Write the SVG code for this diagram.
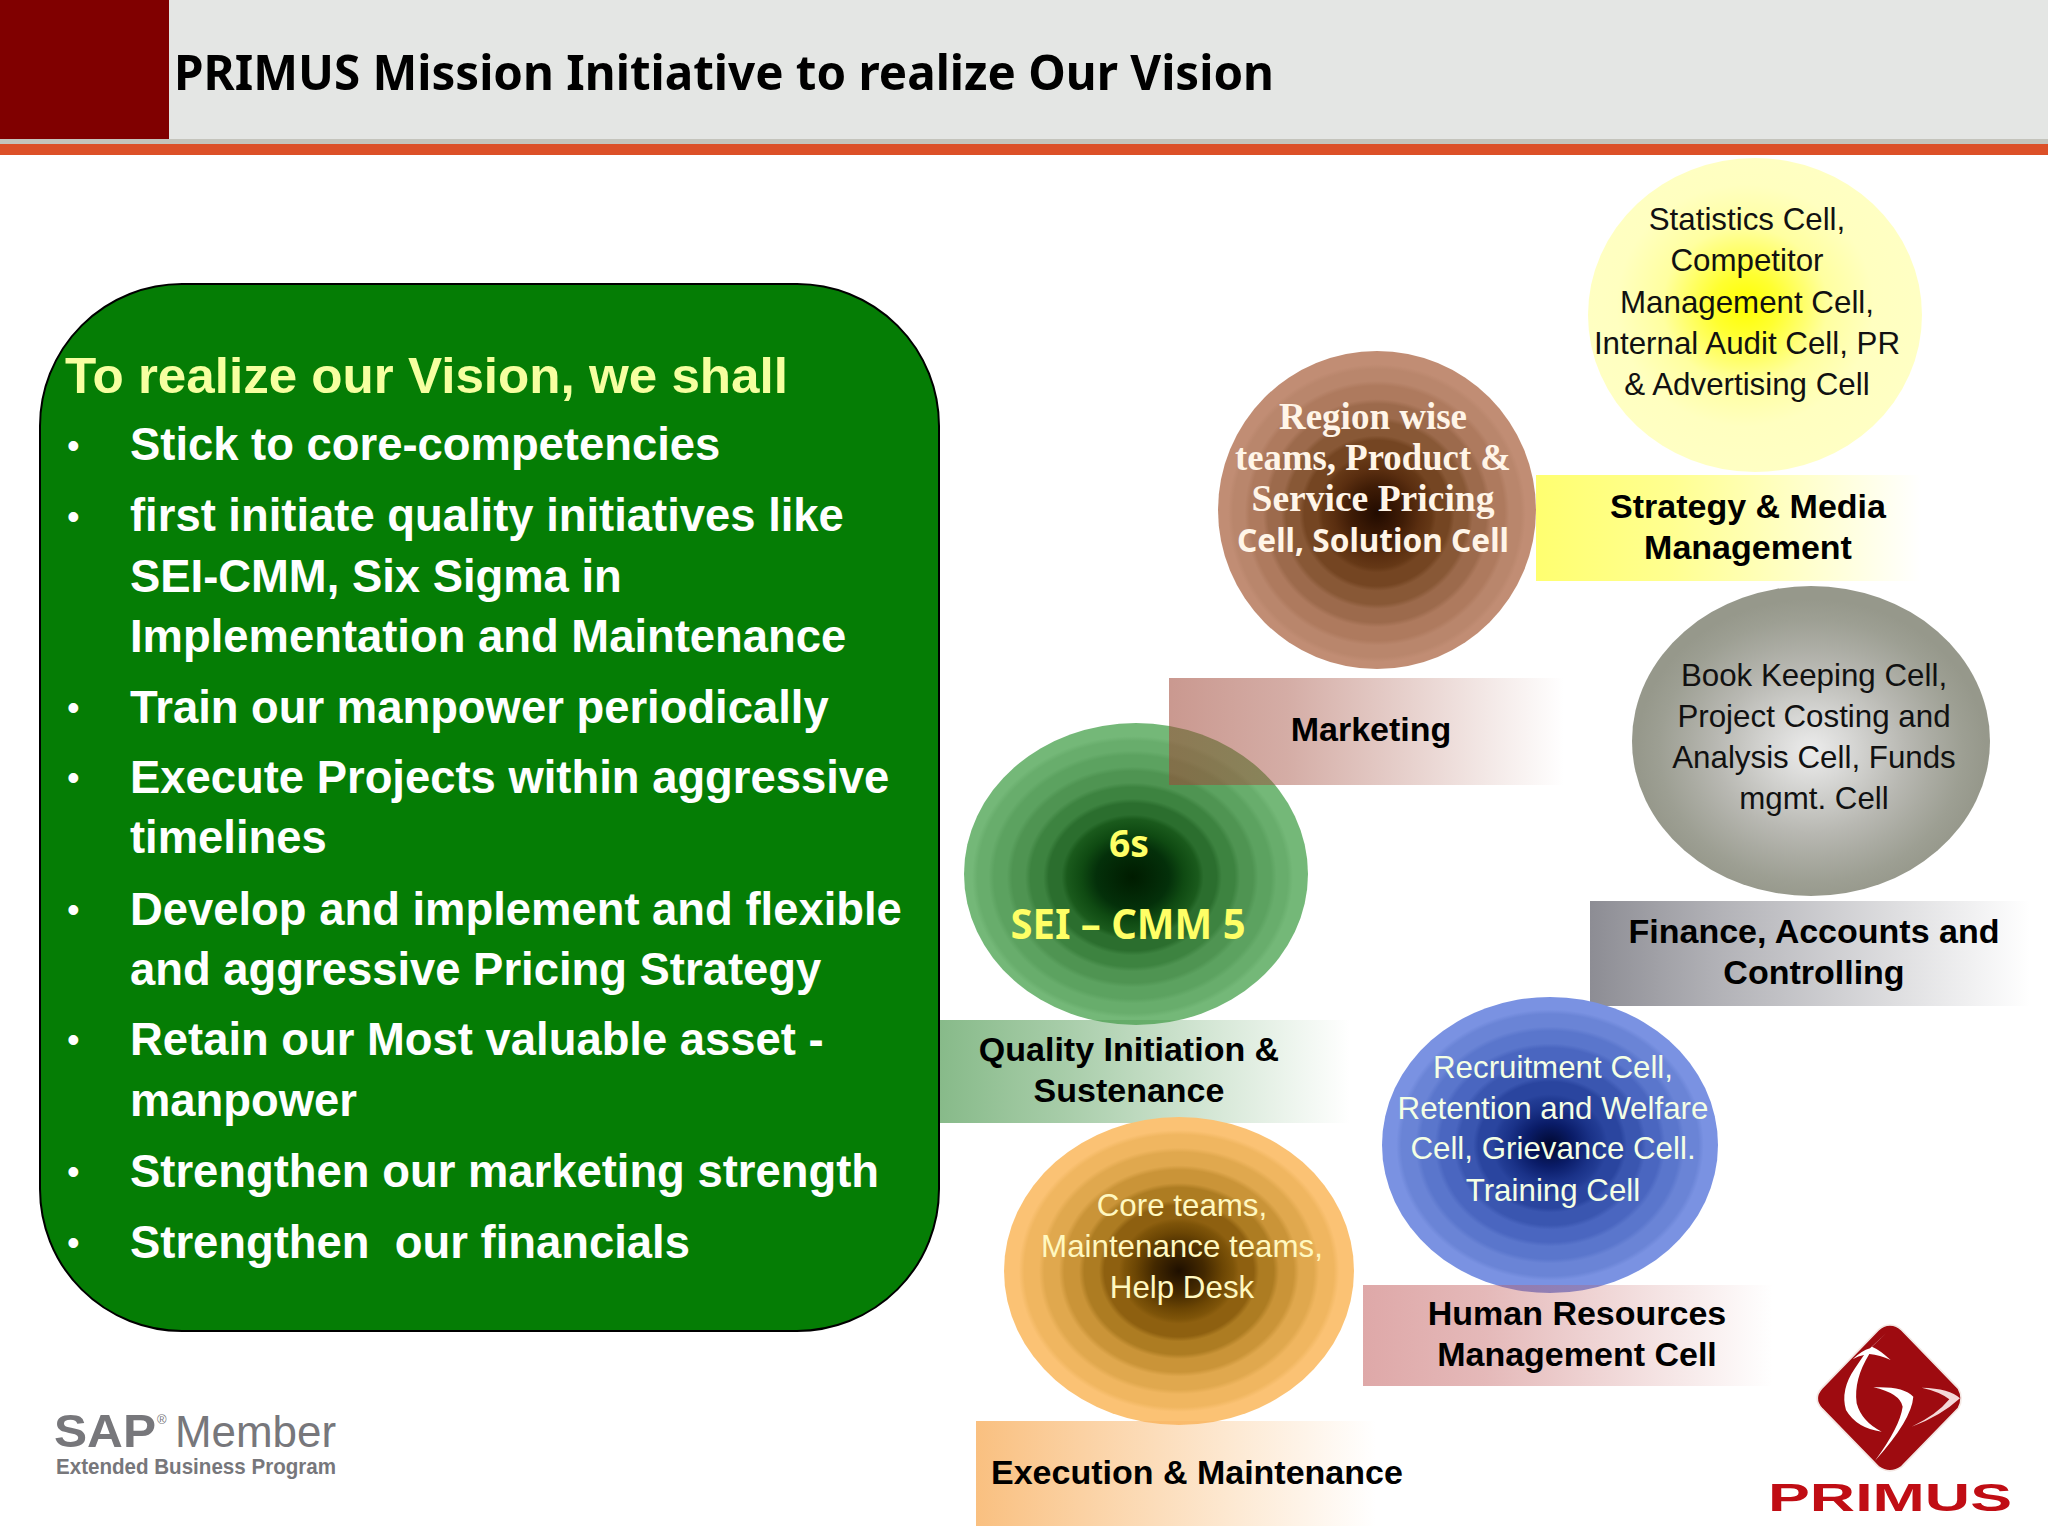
<svg xmlns="http://www.w3.org/2000/svg" width="2048" height="1536" viewBox="0 0 2048 1536">
<defs>
<radialGradient id="gGreen" cx="0.49" cy="0.51" r="0.53"><stop offset="0" stop-color="#001c00"/><stop offset=".2" stop-color="#04300a"/><stop offset=".28" stop-color="#0f4a12"/><stop offset=".36" stop-color="#1a5a1c"/><stop offset=".39" stop-color="#2b6e2e"/><stop offset=".46" stop-color="#2b6e2e"/><stop offset=".49" stop-color="#3d8340"/><stop offset=".56" stop-color="#3d8340"/><stop offset=".59" stop-color="#4f9452"/><stop offset=".66" stop-color="#4f9452"/><stop offset=".69" stop-color="#5ca260"/><stop offset=".76" stop-color="#5ca260"/><stop offset=".79" stop-color="#68ad6c"/><stop offset=".85" stop-color="#68ad6c"/><stop offset=".88" stop-color="#74b878"/><stop offset="1" stop-color="#74b878"/></radialGradient>
<radialGradient id="gBrown" cx="0.5" cy="0.51" r="0.52"><stop offset="0" stop-color="#220b00"/><stop offset=".16" stop-color="#3f1c06"/><stop offset=".26" stop-color="#5a2e10"/><stop offset=".33" stop-color="#653816"/><stop offset=".36" stop-color="#744522"/><stop offset=".44" stop-color="#744522"/><stop offset=".47" stop-color="#885836"/><stop offset=".55" stop-color="#885836"/><stop offset=".58" stop-color="#9c6a4c"/><stop offset=".66" stop-color="#9c6a4c"/><stop offset=".69" stop-color="#ae7a5e"/><stop offset=".77" stop-color="#ae7a5e"/><stop offset=".8" stop-color="#b9866c"/><stop offset=".87" stop-color="#b9866c"/><stop offset=".9" stop-color="#c18d74"/><stop offset="1" stop-color="#c18d74"/></radialGradient>
<radialGradient id="gOrange" cx="0.5" cy="0.5" r="0.52"><stop offset="0" stop-color="#1e0f00"/><stop offset=".14" stop-color="#442900"/><stop offset=".24" stop-color="#6c4604"/><stop offset=".3" stop-color="#7e5409"/><stop offset=".33" stop-color="#8e6010"/><stop offset=".41" stop-color="#8e6010"/><stop offset=".44" stop-color="#ad7c22"/><stop offset=".52" stop-color="#ad7c22"/><stop offset=".55" stop-color="#ca9438"/><stop offset=".63" stop-color="#ca9438"/><stop offset=".66" stop-color="#e0a84e"/><stop offset=".74" stop-color="#e0a84e"/><stop offset=".77" stop-color="#f0b660"/><stop offset=".85" stop-color="#f0b660"/><stop offset=".88" stop-color="#fbc274"/><stop offset="1" stop-color="#fbc274"/></radialGradient>
<radialGradient id="gBlue" cx="0.5" cy="0.5" r="0.52"><stop offset="0" stop-color="#000830"/><stop offset=".14" stop-color="#0a1c68"/><stop offset=".24" stop-color="#1a3288"/><stop offset=".3" stop-color="#223c94"/><stop offset=".33" stop-color="#2a459f"/><stop offset=".41" stop-color="#2a459f"/><stop offset=".44" stop-color="#3a56b0"/><stop offset=".52" stop-color="#3a56b0"/><stop offset=".55" stop-color="#4a66c0"/><stop offset=".63" stop-color="#4a66c0"/><stop offset=".66" stop-color="#5a76cc"/><stop offset=".74" stop-color="#5a76cc"/><stop offset=".77" stop-color="#6a84d6"/><stop offset=".85" stop-color="#6a84d6"/><stop offset=".88" stop-color="#7a92e2"/><stop offset="1" stop-color="#7a92e2"/></radialGradient>
<radialGradient id="gGray" cx="0.5" cy="0.53" r="0.53"><stop offset="0" stop-color="#ececec"/><stop offset=".2" stop-color="#d8d8d6"/><stop offset=".35" stop-color="#c8c8c4"/><stop offset=".5" stop-color="#b8b8b2"/><stop offset=".65" stop-color="#aaaba2"/><stop offset=".8" stop-color="#9d9f93"/><stop offset=".92" stop-color="#96988b"/><stop offset="1" stop-color="#96988b"/></radialGradient>
<radialGradient id="gYellow" cx="0.47" cy="0.47" r="0.55"><stop offset="0" stop-color="#ffff00"/><stop offset=".18" stop-color="#ffff30"/><stop offset=".45" stop-color="#ffffa0"/><stop offset=".7" stop-color="#ffffc0"/><stop offset="1" stop-color="#ffffc4"/></radialGradient>
<linearGradient id="bYellow"><stop offset="0" stop-color="#ffff70"/><stop offset=".35" stop-color="#ffff90"/><stop offset="1" stop-color="#ffff90" stop-opacity="0"/></linearGradient>
<linearGradient id="bBrown"><stop offset="0" stop-color="#a04838" stop-opacity=".56"/><stop offset=".3" stop-color="#a04838" stop-opacity=".45"/><stop offset="1" stop-color="#a04838" stop-opacity="0"/></linearGradient>
<linearGradient id="bGray"><stop offset="0" stop-color="#808088" stop-opacity=".9"/><stop offset=".3" stop-color="#808088" stop-opacity=".6"/><stop offset="1" stop-color="#808088" stop-opacity="0"/></linearGradient>
<linearGradient id="bGreen"><stop offset="0" stop-color="#4f9a52" stop-opacity=".68"/><stop offset=".3" stop-color="#4f9a52" stop-opacity=".5"/><stop offset="1" stop-color="#4f9a52" stop-opacity="0"/></linearGradient>
<linearGradient id="bRose"><stop offset="0" stop-color="#c05858" stop-opacity=".52"/><stop offset=".3" stop-color="#c05858" stop-opacity=".42"/><stop offset="1" stop-color="#c05858" stop-opacity="0"/></linearGradient>
<linearGradient id="bOrange"><stop offset="0" stop-color="#f8b060" stop-opacity=".8"/><stop offset=".3" stop-color="#f8b060" stop-opacity=".55"/><stop offset="1" stop-color="#f8b060" stop-opacity="0"/></linearGradient>
</defs>
<style>
text{font-family:"Liberation Sans",Arial,sans-serif}
.c{text-anchor:middle}
.lab{font-size:34px;font-weight:700;fill:#000}
.cell{font-size:31.3px;fill:#111}
.lite{font-size:31.3px}
.bul{font-size:45.4px;font-weight:700;fill:#fff}
.dot{font-size:36px;fill:#fff}
.cal{font-family:"Noto Sans","Open Sans",sans-serif;font-weight:700}
.ser{font-family:"Liberation Serif",serif;font-weight:700;font-size:37px;fill:#fff5e8}
.sap{fill:#77777b}
</style>
<rect width="2048" height="1536" fill="#fff"/>
<g id="header">
<rect width="2048" height="139" fill="#e4e6e4"/>
<rect width="169" height="139" fill="#800000"/>
<rect y="139" width="2048" height="5" fill="#c4c4bc"/>
<rect y="144" width="2048" height="11" fill="#dc5028"/>
<text class="cal" x="174" y="90" font-size="49" textLength="1100" lengthAdjust="spacingAndGlyphs" fill="#000">PRIMUS Mission Initiative to realize Our Vision</text>
</g>
<g id="vision-panel">
<rect x="40" y="284" width="899" height="1047" rx="142" ry="142" fill="#057d05" stroke="#000" stroke-width="2"/>
<text x="65" y="393" font-size="50" font-weight="700" fill="#f6ffa0" textLength="723" lengthAdjust="spacingAndGlyphs">To realize our Vision, we shall</text>
<text class="dot" x="67" y="458">•</text><text class="bul" x="130" y="460">Stick to core-competencies</text>
<text class="dot" x="67" y="529">•</text><text class="bul" x="130" y="531">first initiate quality initiatives like</text>
<text class="bul" x="130" y="592">SEI-CMM, Six Sigma in</text>
<text class="bul" x="130" y="652">Implementation and Maintenance</text>
<text class="dot" x="67" y="720">•</text><text class="bul" x="130" y="723">Train our manpower periodically</text>
<text class="dot" x="67" y="790">•</text><text class="bul" x="130" y="793">Execute Projects within aggressive</text>
<text class="bul" x="130" y="853">timelines</text>
<text class="dot" x="67" y="922">•</text><text class="bul" x="130" y="925">Develop and implement and flexible</text>
<text class="bul" x="130" y="985">and aggressive Pricing Strategy</text>
<text class="dot" x="67" y="1052">•</text><text class="bul" x="130" y="1055">Retain our Most valuable asset -</text>
<text class="bul" x="130" y="1116">manpower</text>
<text class="dot" x="67" y="1184">•</text><text class="bul" x="130" y="1187">Strengthen our marketing strength</text>
<text class="dot" x="67" y="1255">•</text><text class="bul" x="130" y="1258" xml:space="preserve">Strengthen  our financials</text>
</g>
<g id="connectors"></g>
<g id="node-strategy">
<ellipse cx="1755" cy="315" rx="167" ry="157" fill="url(#gYellow)"/>
<rect x="1536" y="475" width="385" height="106" fill="url(#bYellow)"/>
<text class="c cell" x="1747" y="230">Statistics Cell,</text><text class="c cell" x="1747" y="271">Competitor</text><text class="c cell" x="1747" y="313">Management Cell,</text><text class="c cell" x="1747" y="354">Internal Audit Cell, PR</text><text class="c cell" x="1747" y="395">&amp; Advertising Cell</text>
<text class="c lab" x="1748" y="518">Strategy &amp; Media</text><text class="c lab" x="1748" y="559">Management</text>
</g>
<g id="node-quality">
<ellipse cx="1136" cy="874" rx="172" ry="151" fill="url(#gGreen)"/>
<rect x="940" y="1020" width="410" height="103" fill="url(#bGreen)"/>
<text class="c cal" x="1129" y="857" font-size="38" fill="#ffff66" textLength="40" lengthAdjust="spacingAndGlyphs">6s</text>
<text class="c cal" x="1128" y="939" font-size="41" fill="#ffff66" textLength="235" lengthAdjust="spacingAndGlyphs">SEI – CMM 5</text>
<text class="c lab" x="1129" y="1061">Quality Initiation &amp;</text><text class="c lab" x="1129" y="1102">Sustenance</text>
</g>
<g id="node-marketing">
<ellipse cx="1377" cy="510" rx="159" ry="159" fill="url(#gBrown)"/>
<rect x="1169" y="678" width="395" height="107" fill="url(#bBrown)"/>
<text class="c ser" x="1373" y="429">Region wise</text><text class="c ser" x="1373" y="470" textLength="276" lengthAdjust="spacingAndGlyphs">teams, Product &amp;</text><text class="c ser" x="1373" y="511" textLength="243" lengthAdjust="spacingAndGlyphs">Service Pricing</text>
<text class="c cal" x="1373" y="552" font-size="33" font-weight="500" fill="#fff5e8" textLength="272" lengthAdjust="spacingAndGlyphs">Cell, Solution Cell</text>
<text class="c lab" x="1371" y="741">Marketing</text>
</g>
<g id="node-finance">
<ellipse cx="1811" cy="741" rx="179" ry="155" fill="url(#gGray)"/>
<rect x="1590" y="901" width="440" height="105" fill="url(#bGray)"/>
<text class="c cell" x="1814" y="686">Book Keeping Cell,</text><text class="c cell" x="1814" y="727">Project Costing and</text><text class="c cell" x="1814" y="768">Analysis Cell, Funds</text><text class="c cell" x="1814" y="809">mgmt. Cell</text>
<text class="c lab" x="1814" y="943">Finance, Accounts and</text><text class="c lab" x="1814" y="984">Controlling</text>
</g>
<g id="node-hr">
<ellipse cx="1550" cy="1145" rx="168" ry="148" fill="url(#gBlue)"/>
<rect x="1363" y="1285" width="410" height="101" fill="url(#bRose)"/>
<text class="c lite" fill="#f4ffe4" x="1553" y="1078">Recruitment Cell,</text><text class="c lite" fill="#f4ffe4" x="1553" y="1119">Retention and Welfare</text><text class="c lite" fill="#f4ffe4" x="1553" y="1159">Cell, Grievance Cell.</text><text class="c lite" fill="#f4ffe4" x="1553" y="1201">Training Cell</text>
<text class="c lab" x="1577" y="1325">Human Resources</text><text class="c lab" x="1577" y="1366">Management Cell</text>
</g>
<g id="node-execution">
<ellipse cx="1179" cy="1271" rx="175" ry="154" fill="url(#gOrange)"/>
<rect x="976" y="1421" width="400" height="105" fill="url(#bOrange)"/>
<text class="c lite" fill="#fff8c0" x="1182" y="1216">Core teams,</text><text class="c lite" fill="#fff8c0" x="1182" y="1257">Maintenance teams,</text><text class="c lite" fill="#fff8c0" x="1182" y="1298">Help Desk</text>
<text class="lab" x="991" y="1484">Execution &amp; Maintenance</text>
</g>
<g id="sap-logo">
<text x="54" y="1447" font-size="47" font-weight="700" class="sap" textLength="102" lengthAdjust="spacingAndGlyphs">SAP</text>
<text x="157" y="1424" font-size="13" class="sap">®</text>
<text x="175" y="1447" font-size="44" class="sap" textLength="161" lengthAdjust="spacingAndGlyphs">Member</text>
<text x="56" y="1474" font-size="22" font-weight="700" class="sap" textLength="280" lengthAdjust="spacingAndGlyphs">Extended Business Program</text>
</g>
<g id="primus-logo">
<g transform="translate(1740 1300) scale(.3333)">
<path d="M450 75 Q470 75 485 90 L655 265 Q672 295 655 325 L485 500 Q450 525 415 500 L245 325 Q218 295 245 265 L415 90 Q430 75 450 75Z" fill="#9e0b10" stroke="#f4e8e4" stroke-width="5"/>
<path d="M440 98 L396 140 Q420 150 452 180 Q420 165 388 162 Q340 240 350 310 Q365 365 425 395 Q350 385 318 330 Q300 270 345 205 L372 165 Q355 168 338 178 Q365 152 390 145Z" fill="#fff"/>
<path d="M400 262 Q490 258 520 290 Q515 360 405 482 Q480 380 488 320 Q480 280 400 262Z" fill="#fff"/>
<path d="M545 263 Q630 265 660 295 Q600 350 515 380 Q590 345 628 298 Q600 275 545 263Z" fill="#f4d8d8"/>
</g>
<text x="1768" y="1511" font-size="39" font-weight="700" fill="#c00d14" textLength="244" lengthAdjust="spacingAndGlyphs">PRIMUS</text>
</g>
</svg>
